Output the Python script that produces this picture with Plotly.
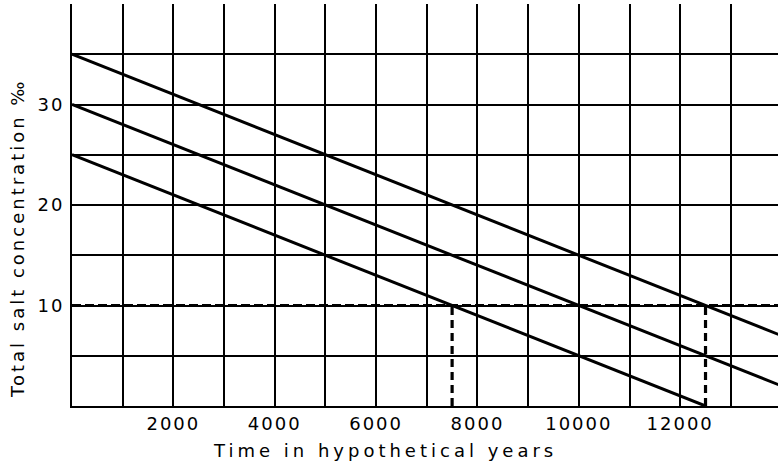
import plotly.graph_objects as go

# Data
years_top = [0, 14000]
salt_top = [35, 7]
years_mid = [0, 14000]
salt_mid = [30, 2]
years_low = [0, 12500]
salt_low = [25, 0]

threshold = 10
threshold_years = [7500, 12500]

x_tick_vals = list(range(0, 14001, 1000))
x_tick_labels = ["", "", "2000", "", "4000", "", "6000", "", "8000", "", "10000", "", "12000", "", ""]
y_tick_vals = [0, 5, 10, 15, 20, 25, 30, 35, 40]
y_tick_labels = ["", "", "10", "", "20", "", "30", "", ""]

x_title = "Time in hypothetical years"
y_title = "Total salt concentration ‰"

FONT = "DejaVu Sans"


def spaced(t, px):
    return f'<span style="letter-spacing:{px}px">{t}</span>' if t else ""


fig = go.Figure()
for xs, ys in [(years_top, salt_top), (years_mid, salt_mid), (years_low, salt_low)]:
    fig.add_trace(go.Scatter(x=xs, y=ys, mode="lines",
                             line=dict(color="black", width=3), cliponaxis=True,
                             showlegend=False, hoverinfo="skip"))

# dashed threshold line
fig.add_trace(go.Scatter(x=[0, 14000], y=[threshold, threshold], mode="lines",
                         line=dict(color="black", width=3.2, dash="9px,4px"),
                         showlegend=False, hoverinfo="skip"))
for xv in threshold_years:
    fig.add_trace(go.Scatter(x=[xv, xv], y=[0, threshold], mode="lines",
                             line=dict(color="black", width=3.2, dash="8px,5px"),
                             showlegend=False, hoverinfo="skip"))

fig.update_layout(
    width=778, height=465,
    margin=dict(l=72, r=0, t=4, b=59),
    paper_bgcolor="white", plot_bgcolor="white",
    font=dict(family=FONT, color="black", size=18),
    xaxis=dict(range=[0, 13930], tickvals=x_tick_vals,
               ticktext=[spaced(t, 2) for t in x_tick_labels],
               showgrid=True, gridcolor="black", gridwidth=1.5,
               showline=True, linecolor="black", linewidth=2,
               ticks="", zeroline=False, automargin=False,
               tickfont=dict(size=18)),
    yaxis=dict(range=[0, 40], tickvals=y_tick_vals,
               ticktext=[spaced(t, 2) for t in y_tick_labels],
               showgrid=True, gridcolor="black", gridwidth=1.5,
               showline=True, linecolor="black", linewidth=2,
               ticks="", zeroline=False, automargin=False,
               tickfont=dict(size=18), ticklabelstandoff=2),
    annotations=[
        dict(text=spaced(x_title, 4), xref="paper", yref="paper",
             x=(385 - 72) / 706, y=(406 - 450) / 402, xanchor="center", yanchor="middle",
             showarrow=False, font=dict(size=18)),
        dict(text=spaced(y_title, 3), xref="paper", yref="paper",
             x=(17 - 72) / 706, y=(406 - 238) / 402, xanchor="center", yanchor="middle",
             textangle=-90, showarrow=False, font=dict(size=18)),
    ],
)

fig.write_html("out.html", config={"displayModeBar": False},
               post_script="document.body.style.margin='0px';")
